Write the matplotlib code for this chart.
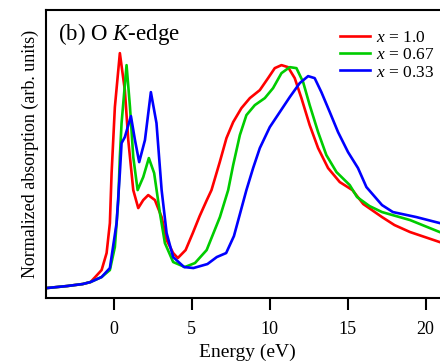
import numpy as np
import matplotlib
matplotlib.use("Agg")
import matplotlib.pyplot as plt

plt.rcParams['font.family'] = ['Liberation Serif', 'DejaVu Serif']
plt.rcParams['mathtext.fontset'] = 'custom'
plt.rcParams['mathtext.rm'] = 'Liberation Serif'
plt.rcParams['mathtext.it'] = 'Liberation Serif:italic'

# valores (energia en eV, absorcion en u.a.)
e_red = [-4.3, -3.0, -2.0, -1.5, -1.2, -0.79, -0.47, -0.26, -0.15, 0.06, 0.38, 0.7, 0.92,
         1.24, 1.56, 1.88, 2.2, 2.63, 3.06, 3.38, 3.8, 4.1, 4.6, 5.06, 5.5, 5.96, 6.26,
         6.79, 7.22, 7.65, 8.18, 8.72, 9.36, 9.89, 10.32, 10.75, 11.17, 11.6, 12.03,
         12.56, 13.1, 13.74, 14.49, 15.3, 16.0, 17.2, 18.0, 19.0, 20.9]
a_red = [10, 12, 14, 16, 21, 28, 45, 75, 125, 191, 245, 208, 158, 108, 90, 98, 103, 98,
         81, 58, 45, 40, 48, 65, 82, 98, 108, 136, 160, 176, 190, 200, 208, 220, 230, 233,
         231, 220, 200, 173, 150, 130, 116, 108, 94, 81, 73, 66, 56]

e_green = [-4.3, -3.0, -2.0, -1.5, -0.79, -0.26, 0.06, 0.28, 0.38, 0.49, 0.81, 1.03, 1.24,
           1.52, 1.88, 2.24, 2.58, 2.95, 3.27, 3.8, 4.55, 5.2, 5.95, 6.8, 7.33, 7.65, 8.08,
           8.5, 9.04, 9.68, 10.21, 10.75, 11.28, 11.71, 12.14, 12.56, 13.1, 13.63, 14.28,
           15.13, 15.6, 16.4, 17.2, 19.0, 20.9]
a_green = [10, 12, 14, 16, 21, 28, 51, 98, 141, 175, 233, 191, 141, 108, 121, 140, 125, 85,
           55, 36, 31, 35, 48, 81, 108, 133, 163, 183, 193, 200, 210, 225, 231, 230, 216,
           193, 166, 143, 126, 113, 101, 92, 86, 78, 66]

e_blue = [-4.3, -3.0, -2.0, -1.5, -0.79, -0.26, 0.17, 0.38, 0.49, 0.7, 1.09, 1.35, 1.62,
          1.99, 2.37, 2.73, 3.06, 3.38, 3.8, 4.5, 5.1, 6.0, 6.6, 7.2, 7.7, 8.1, 8.5, 8.93,
          9.36, 10.0, 10.64, 11.28, 11.92, 12.46, 12.88, 13.31, 13.85, 14.38, 15.02, 15.66,
          16.2, 17.2, 17.9, 19.4, 20.9]
a_blue = [10, 12, 14, 16, 21, 30, 75, 125, 155, 161, 182, 158, 136, 158, 206, 175, 108, 65,
          41, 31, 30, 34, 41, 45, 62, 85, 108, 130, 150, 171, 186, 201, 215, 222, 220, 206,
          186, 166, 146, 130, 111, 93, 86, 81, 75]

etiquetas = [r'$x$ = 1.0', r'$x$ = 0.67', r'$x$ = 0.33']
colores = ['#ff0000', '#00cc00', '#0000ff']
xticks = [0, 5, 10, 15, 20]

fig = plt.figure(figsize=(4.4, 3.63), dpi=100)
ax = fig.add_axes([0.1045, 0.179, 0.916, 0.793])

for e, a, lab, c in zip([e_red, e_green, e_blue], [a_red, a_green, a_blue], etiquetas, colores):
    ax.plot(e, a, color=c, lw=1.9, label=lab, solid_joinstyle='round')

ax.set_xlim(-4.36, 21.5)
ax.set_ylim(0, 288)
ax.set_xticks(xticks)
ax.set_yticks([])
ax.tick_params(axis='x', direction='out', length=8.5, width=1.5, labelsize=13, pad=8)
for s in ['left', 'bottom', 'top']:
    ax.spines[s].set_linewidth(1.5)
ax.spines['right'].set_visible(False)

ax.set_xlabel('Energy (eV)', fontsize=14, labelpad=4)
ax.set_ylabel('Normalized absorption (arb. units)', fontsize=13, labelpad=5)
ax.text(0.03, 0.896, r'(b) O $K$-edge', transform=ax.transAxes, fontsize=16.5,
        va='baseline')

ax.legend(loc='upper left', bbox_to_anchor=(0.73, 0.93), frameon=False, fontsize=12.5,
          handlelength=1.7, handletextpad=0.35, labelspacing=0.05, borderaxespad=0,
          borderpad=0)

plt.savefig('out.png', dpi=100)
